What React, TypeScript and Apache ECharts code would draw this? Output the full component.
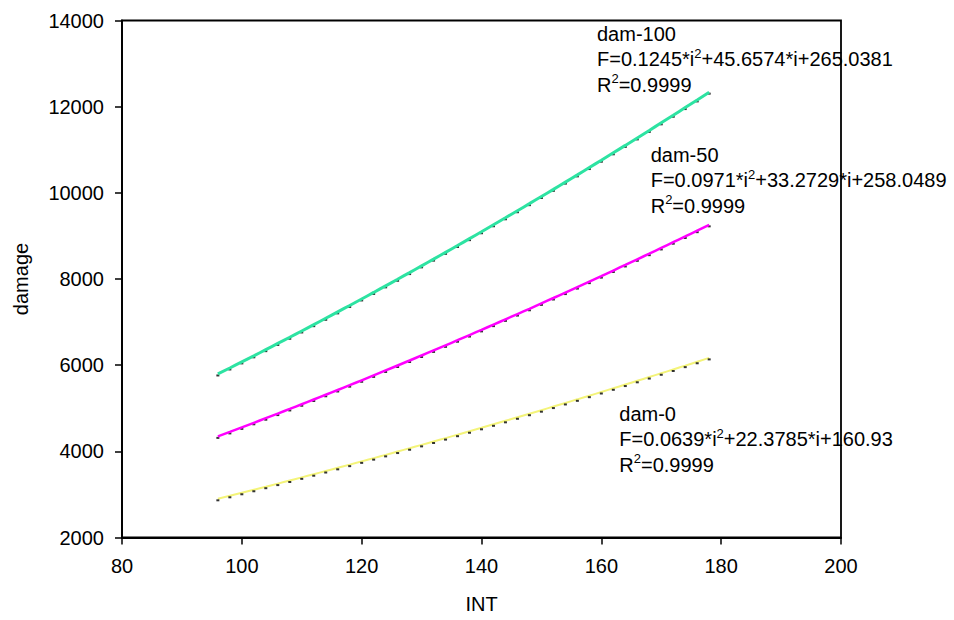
import React, { useEffect, useRef } from "react";
import * as echarts from "echarts";

const INT = [96, 98, 100, 102, 104, 106, 108, 110, 112, 114, 116, 118, 120, 122, 124, 126, 128, 130, 132, 134, 136, 138, 140, 142, 144, 146, 148, 150, 152, 154, 156, 158, 160, 162, 164, 166, 168, 170, 172, 174, 176, 178];

const dam100 = [5796, 5935, 6076, 6217, 6360, 6504, 6648, 6794, 6940, 7088, 7237, 7386, 7537, 7688, 7841, 7994, 8149, 8305, 8461, 8619, 8777, 8937, 9097, 9259, 9421, 9585, 9749, 9915, 10081, 10249, 10417, 10587, 10757, 10929, 11101, 11275, 11449, 11625, 11801, 11979, 12157, 12337];

const dam50 = [4347, 4451, 4556, 4662, 4769, 4876, 4984, 5093, 5203, 5313, 5424, 5536, 5649, 5763, 5877, 5992, 6108, 6225, 6342, 6460, 6579, 6699, 6819, 6941, 7063, 7186, 7309, 7434, 7559, 7685, 7812, 7939, 8067, 8197, 8326, 8457, 8588, 8721, 8854, 8987, 9122, 9257];

const dam0 = [2898, 2968, 3038, 3108, 3179, 3251, 3323, 3396, 3469, 3543, 3617, 3691, 3767, 3842, 3918, 3995, 4072, 4150, 4228, 4307, 4386, 4466, 4546, 4627, 4708, 4790, 4873, 4955, 5039, 5123, 5207, 5292, 5377, 5463, 5550, 5637, 5724, 5812, 5900, 5989, 6079, 6169];

const seriesNames = ["dam-100", "dam-50", "dam-0"];
const equations = [
  ["F=0.1245*i", "+45.6574*i+265.0381"],
  ["F=0.0971*i", "+33.2729*i+258.0489"],
  ["F=0.0639*i", "+22.3785*i+160.93"],
];
const rSquared = ["0.9999", "0.9999", "0.9999"];

const FONT = '"Liberation Sans", Arial, sans-serif';

const pairs = (ys: number[]) => INT.map((x, i) => [x, ys[i]]);

export default function App() {
  const ref = useRef<HTMLDivElement>(null);
  useEffect(() => {
    if (!ref.current) return;
    const chart = echarts.init(ref.current, null, { renderer: "svg" });

    const annot = (idx: number, x: number, y: number) => ({
      type: "text",
      x,
      y,
      style: {
        text:
          seriesNames[idx] +
          "\n" +
          equations[idx][0] +
          "{sup|2}" +
          equations[idx][1] +
          "\nR{sup|2}=" +
          rSquared[idx],
        fontFamily: FONT,
        fontSize: 20,
        lineHeight: 25.5,
        fill: "#000",
        rich: {
          sup: {
            fontFamily: FONT,
            fontSize: 13,
            lineHeight: 21,
            verticalAlign: "top",
            fill: "#000",
          },
        },
      },
      z: 100,
    });

    const dots = (ys: number[], z: number) => ({
      type: "scatter",
      data: pairs(ys),
      symbol: "rect",
      symbolSize: [3, 2],
      symbolOffset: [0, 1.5],
      itemStyle: { color: "#000" },
      z,
      silent: true,
    });

    const line = (ys: number[], color: string, width: number, z: number) => ({
      type: "line",
      data: pairs(ys),
      showSymbol: false,
      smooth: true,
      lineStyle: { color, width },
      z,
      silent: true,
    });

    const plain = (v: number) => String(v);

    chart.setOption({
      animation: false,
      backgroundColor: "#fff",
      grid: {
        left: 122,
        right: 113,
        top: 20.5,
        bottom: 82.5,
        show: true,
        borderColor: "#000",
        borderWidth: 1.8,
      },
      xAxis: {
        type: "value",
        min: 80,
        max: 200,
        interval: 20,
        name: "INT",
        nameLocation: "middle",
        nameGap: 56,
        nameTextStyle: { fontFamily: FONT, fontSize: 20, color: "#000" },
        axisLine: { show: true, lineStyle: { color: "#000", width: 1.8 } },
        axisTick: { show: true, inside: false, length: 7, lineStyle: { color: "#000", width: 1.5 } },
        axisLabel: { fontFamily: FONT, fontSize: 20, color: "#000", margin: 18, formatter: plain },
        splitLine: { show: false },
      },
      yAxis: {
        type: "value",
        min: 2000,
        max: 14000,
        interval: 2000,
        name: "damage",
        nameLocation: "middle",
        nameGap: 91,
        nameRotate: 90,
        nameTextStyle: { fontFamily: FONT, fontSize: 20, color: "#000" },
        axisLine: { show: true, lineStyle: { color: "#000", width: 1.8 } },
        axisTick: { show: true, inside: false, length: 7, lineStyle: { color: "#000", width: 1.5 } },
        axisLabel: { fontFamily: FONT, fontSize: 20, color: "#000", margin: 18, formatter: plain },
        splitLine: { show: false },
      },
      series: [
        dots(dam100, 2),
        line(dam100, "#2de3a2", 3, 3),
        dots(dam50, 2),
        line(dam50, "#ff00ff", 2.5, 3),
        line(dam0, "#f4f47a", 2, 2),
        dots(dam0, 3),
      ],
      graphic: [annot(0, 597, 21), annot(1, 650.7, 142), annot(2, 619.3, 401)],
    });
    return () => chart.dispose();
  }, []);
  return <div ref={ref} style={{ width: 954, height: 620, position: "absolute", left: 0, top: 0 }} />;
}
